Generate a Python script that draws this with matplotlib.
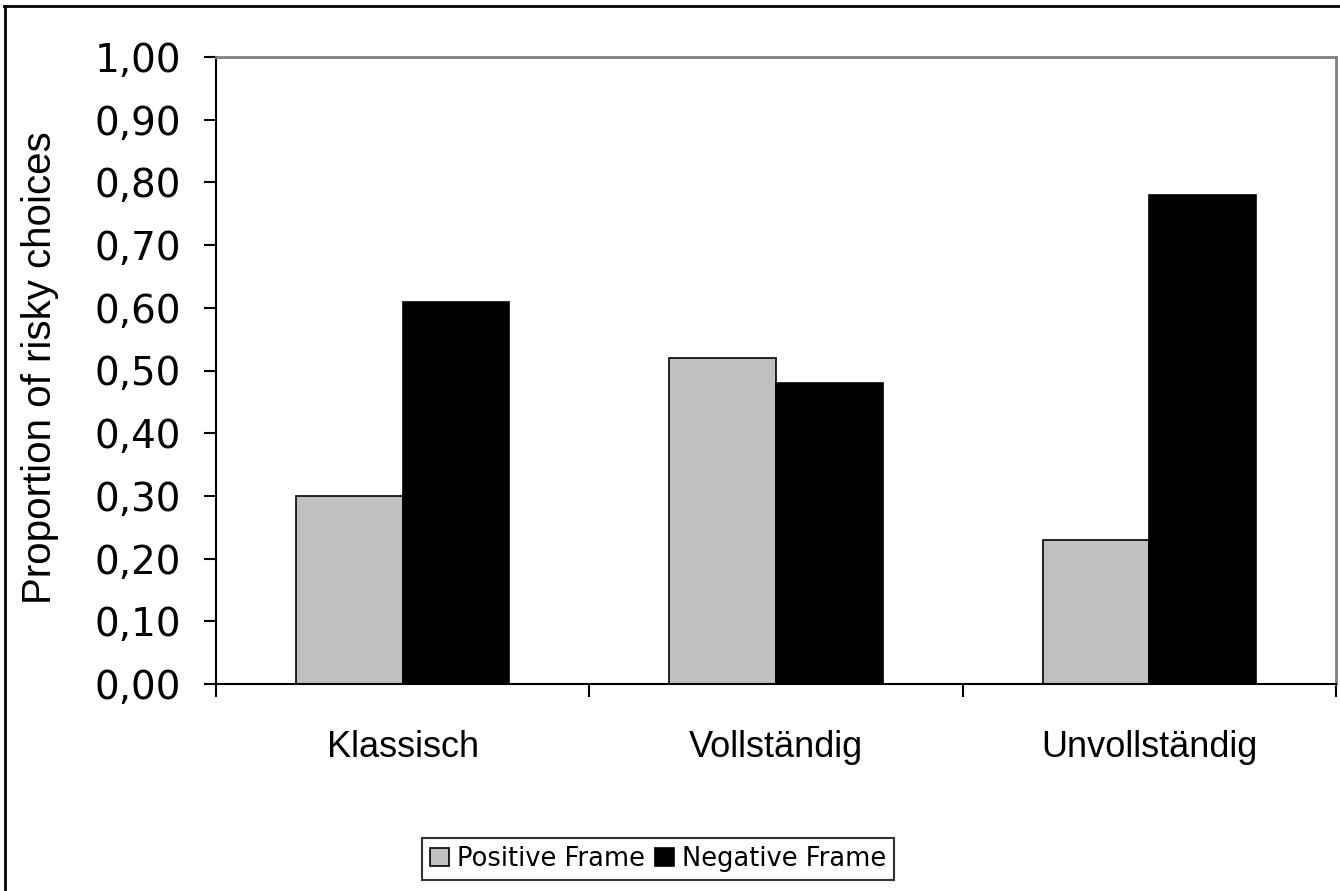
import numpy as np
import matplotlib
matplotlib.use("Agg")
import matplotlib.pyplot as plt
from matplotlib.lines import Line2D

# data
categories = ["Klassisch", "Vollständig", "Unvollständig"]
positive = [0.30, 0.52, 0.23]
negative = [0.61, 0.48, 0.78]
series_names = ["Positive Frame", "Negative Frame"]
yticks = [0.0, 0.1, 0.2, 0.3, 0.4, 0.5, 0.6, 0.7, 0.8, 0.9, 1.0]

W, H = 1340, 891
fig = plt.figure(figsize=(W / 100, H / 100), dpi=100)
ax = fig.add_axes([216 / W, (H - 684) / H, 1120 / W, 627 / H])

x = np.arange(len(categories))
bw = 1 / 3.5
ax.bar(x - bw / 2, positive, bw, color="#C0C0C0", edgecolor="black", linewidth=1.2,
       label=series_names[0])
ax.bar(x + bw / 2, negative, bw, color="black", edgecolor="black", linewidth=1.2,
       label=series_names[1])

ax.set_xlim(-0.5, len(categories) - 0.5)
ax.set_ylim(0, 1.0)

# y axis, german decimal comma
ax.set_yticks(yticks)
ax.set_yticklabels([("%.2f" % v).replace(".", ",") for v in yticks],
                   fontfamily="DejaVu Sans", fontsize=28)
ax.tick_params(axis="y", direction="out", length=9, width=1.5, pad=16)

# x axis: labels centered, ticks at category borders
ax.set_xticks(x)
ax.set_xticklabels(categories, fontfamily="Liberation Sans", fontsize=26)
ax.tick_params(axis="x", which="major", length=0, pad=33)
ax.set_xticks(np.arange(-0.5, len(categories)), minor=True)
ax.tick_params(axis="x", which="minor", direction="out", length=9, width=1.5)

for s in ["left", "bottom"]:
    ax.spines[s].set_color("black")
    ax.spines[s].set_linewidth(1.5)
for s in ["top", "right"]:
    ax.spines[s].set_color("#808080")
    ax.spines[s].set_linewidth(2)

fig.text(40 / W, 1 - 368 / H, "Proportion of risky choices", rotation=90,
         ha="center", va="center", fontfamily="Liberation Sans", fontsize=29)

leg = fig.legend(loc="center", bbox_to_anchor=(658 / W, 1 - 859 / H), ncol=2,
                 frameon=True, fancybox=False, edgecolor="black",
                 prop={"family": "DejaVu Sans", "size": 18.5},
                 handlelength=0.75, handleheight=0.75, handletextpad=0.3,
                 columnspacing=0.4, borderpad=0.3, borderaxespad=0)
leg.get_frame().set_linewidth(1.5)

# outer slide frame
fig.add_artist(Line2D([4 / W, 1], [1 - 5.5 / H, 1 - 5.5 / H], color="black", lw=2,
                      transform=fig.transFigure))
fig.add_artist(Line2D([5 / W, 5 / W], [0, 1 - 5.5 / H], color="black", lw=2,
                      transform=fig.transFigure))

fig.savefig("out.png", dpi=100)
